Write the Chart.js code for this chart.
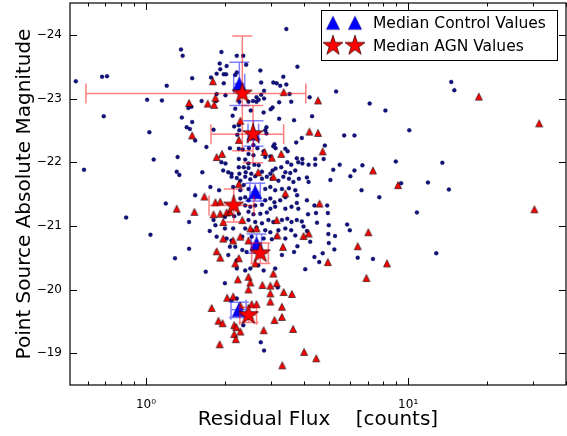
<!DOCTYPE html>
<html>
<head>
<meta charset="utf-8">
<script src="https://cdn.jsdelivr.net/npm/chart.js@4.4.0/dist/chart.umd.min.js"></script>
<style>
    html, body { margin: 0; padding: 0; background: #fff; }
</style>
</head>
<body>
<canvas id="magChart" width="567" height="436"></canvas>
<script>
// control galaxies: [residual flux, point source magnitude]
const controlValues = [
    [0.54,-23.27],[0.68,-23.34],[0.71,-23.35],[0.69,-22.72],[0.58,-21.88],[0.84,-21.13],
    [1.01,-22.98],[1.15,-22.97],[1.03,-22.47],[1.07,-22.04],[1.04,-20.86],[1.2,-23.2],[1.19,-21.35],[1.29,-20.49],
    [1.36,-23.77],[1.38,-23.67],[1.32,-22.08],[1.31,-21.85],[1.34,-21.8],[1.37,-22.70],[1.43,-22.55],[1.47,-22.52],
    [1.54,-22.34],[1.46,-21.06],[1.46,-20.64],[1.50,-23.32],[1.45,-22.85],[1.49,-22.87],[1.50,-22.63],[1.54,-21.48],
    [1.63,-22.96],[1.64,-21.84],[1.69,-20.28],[1.70,-22.24],[1.75,-20.92],[1.76,-21.61],[1.77,-23.33],[1.81,-22.51],
    [1.81,-21.09],[1.84,-21.01],[1.85,-22.96],[1.86,-23.07],[1.86,-20.83],[1.86,-23.39],[1.90,-21.56],[1.91,-23.55],
    [1.92,-23.46],[1.94,-23.73],[1.94,-22.0],[1.97,-21.87],[1.98,-23.38],[1.98,-23.24],[2.02,-23.38],[2.03,-23.51],
    [2.00,-20.10],[2.00,-21.14],[2.00,-20.96],[2.01,-21.98],[2.01,-23.05],[2.03,-20.80],[2.06,-21.84],[2.06,-20.54],
    [2.09,-22.22],[2.12,-21.82],[2.12,-21.77],[2.14,-22.73],[2.15,-21.61],[2.15,-20.96],[2.12,-20.77],[2.12,-19.83],
    [2.17,-22.56],[2.17,-21.15],[2.19,-23.37],[2.19,-22.84],[2.19,-20.67],[2.09,-20.67],[2.22,-23.41],[2.22,-23.67],
    [2.22,-21.75],[2.22,-20.46],[2.22,-20.33],[2.22,-19.86],[2.23,-22.43],[2.26,-22.58],[2.26,-22.21],[2.26,-22.05],
    [2.26,-21.92],[2.26,-21.19],[2.27,-22.50],[2.27,-22.95],[2.27,-21.82],[2.29,-21.71],[2.29,-21.56],[2.29,-21.43],
    [2.33,-20.62],[2.33,-20.83],[2.34,-22.20],[2.35,-23.67],[2.35,-19.44],[2.36,-21.92],[2.36,-21.64],[2.39,-22.04],
    [2.39,-21.77],[2.39,-21.45],[2.39,-21.32],[2.39,-20.96],[2.39,-20.30],[2.40,-21.84],[2.41,-23.53],[2.42,-20.59],
    [2.46,-22.95],[2.47,-22.22],[2.46,-22.13],[2.46,-21.98],[2.46,-21.91],[2.46,-21.58],[2.46,-21.40],[2.46,-21.22],
    [2.46,-21.09],[2.50,-21.73],[2.50,-21.30],[2.50,-20.33],[2.51,-22.81],[2.52,-21.82],[2.53,-20.93],[2.53,-20.83],
    [2.56,-22.96],[2.57,-22.27],[2.57,-22.11],[2.57,-21.18],[2.59,-21.96],[2.61,-21.78],[2.61,-21.32],[2.61,-21.06],
    [2.64,-22.95],[2.64,-23.02],[2.64,-20.97],[2.66,-22.22],[2.68,-20.38],[2.69,-22.98],[2.69,-21.95],[2.73,-21.19],
    [2.73,-23.44],[2.74,-19.17],[2.75,-23.25],[2.75,-23.06],[2.77,-21.85],[2.77,-21.74],[2.77,-21.33],[2.77,-21.04],
    [2.81,-22.78],[2.81,-22.17],[2.81,-20.80],[2.81,-20.30],[2.82,-23.12],[2.82,-23.00],[2.82,-19.04],[2.85,-22.50],
    [2.85,-22.08],[2.85,-21.58],[2.85,-21.40],[2.85,-20.93],[2.88,-22.45],[2.88,-22.55],[2.89,-21.77],[2.89,-21.21],
    [2.93,-21.09],[2.98,-22.09],[2.98,-21.82],[2.98,-21.61],[2.98,-21.43],[2.98,-21.27],[2.98,-20.90],[2.99,-22.83],
    [3.02,-21.74],[3.02,-20.79],[3.04,-22.86],[3.04,-21.87],[3.06,-22.25],[3.06,-21.06],[3.09,-22.28],[3.09,-21.37],
    [3.11,-21.56],[3.11,-21.30],[3.11,-20.33],[3.12,-22.22],[3.12,-21.90],[3.15,-23.24],[3.15,-20.83],[3.18,-20.03],
    [3.20,-21.71],[3.20,-20.93],[3.22,-22.94],[3.22,-22.68],[3.25,-21.40],[3.25,-23.20],[3.28,-21.92],[3.30,-21.58],
    [3.30,-21.09],[3.30,-20.54],[3.34,-23.34],[3.34,-21.77],[3.40,-21.84],[3.40,-21.45],[3.40,-21.27],[3.40,-20.96],
    [3.40,-20.80],[3.40,-22.21],[3.43,-23.22],[3.43,-24.09],[3.46,-22.0],[3.46,-21.11],[3.47,-22.17],[3.51,-21.74],
    [3.51,-21.59],[3.53,-23.07],[3.55,-21.83],[3.58,-22.95],[3.58,-21.96],[3.59,-21.30],[3.59,-21.06],[3.58,-20.93],
    [3.65,-21.69],[3.67,-22.66],[3.67,-20.59],[3.71,-21.87],[3.71,-21.56],[3.71,-20.85],[3.74,-22.31],[3.76,-21.09],
    [3.76,-22.06],[3.76,-21.36],[3.77,-21.48],[3.78,-23.50],[3.78,-20.68],[3.81,-22.0],[3.81,-21.27],[3.83,-21.74],
    [3.93,-22.38],[3.93,-21.07],[3.95,-22.05],[3.95,-21.98],[3.99,-20.99],[4.05,-20.32],[4.11,-21.76],[4.11,-21.40],
    [4.11,-20.92],[4.15,-21.18],[4.17,-21.96],[4.17,-21.69],[4.21,-23.02],[4.23,-20.75],[4.30,-22.72],[4.39,-21.32],
    [4.39,-20.51],[4.42,-22.05],[4.42,-21.96],[4.45,-21.20],[4.49,-21.05],[4.58,-20.43],[4.72,-20.57],[4.76,-22.05],
    [4.81,-22.26],[4.91,-21.32],[4.94,-21.20],[4.96,-20.87],[4.98,-21.01],[4.98,-20.73],[5.18,-21.88],[5.23,-20.63],
    [5.26,-20.84],[5.31,-23.11],[5.05,-21.72],[5.48,-21.96],[5.70,-22.42],[5.85,-21.02],[5.99,-20.93],[6.02,-21.78],
    [6.24,-21.87],[6.24,-22.42],[6.42,-20.50],[6.64,-21.56],[6.69,-21.95],[7.13,-22.92],[7.34,-20.48],[7.76,-21.45],
    [8.19,-22.81],[8.97,-22.01],[9.4,-21.67],[10.1,-22.50],[10.8,-21.21],[11.9,-21.68],[12.8,-20.57],[13.5,-21.99],
    [14.3,-21.57],[14.6,-23.26],[15.0,-23.13],[3.06,-23.25]
];

// AGN hosts: [residual flux, point source magnitude]
const agnValues = [
    [1.31,-21.27],[1.46,-22.93],[1.50,-22.42],[1.53,-21.22],[1.67,-21.46],[1.72,-22.92],[1.80,-23.27],[1.82,-22.90],
    [1.84,-23.01],[1.81,-21.18],[1.84,-21.37],[1.92,-21.38],[1.86,-22.08],[1.95,-22.13],[1.92,-21.19],[2.03,-21.21],
    [2.09,-21.22],[1.97,-21.06],[1.97,-20.80],[2.15,-20.77],[2.29,-20.83],[2.46,-20.77],[2.26,-22.35],[2.26,-21.66],
    [2.29,-22.65],[2.33,-21.09],[2.50,-20.96],[2.64,-20.96],[2.68,-21.84],[2.83,-22.16],[3.02,-22.07],[3.28,-22.13],
    [3.06,-21.77],[3.15,-21.09],[3.35,-23.10],[3.40,-21.51],[3.17,-20.85],[3.33,-20.67],[1.86,-20.60],[1.92,-20.50],
    [2.19,-20.41],[2.26,-20.49],[2.61,-20.41],[3.06,-20.25],[2.24,-20.16],[2.46,-20.20],[2.50,-20.11],[2.46,-20.0],
    [2.78,-20.07],[2.98,-20.06],[3.15,-20.10],[2.98,-19.94],[3.35,-19.96],[3.60,-19.93],[2.04,-19.87],[2.15,-19.89],
    [1.78,-19.71],[2.29,-19.75],[2.53,-19.77],[2.64,-19.77],[2.98,-19.81],[3.30,-19.73],[1.89,-19.51],[1.96,-19.47],
    [2.17,-19.44],[2.21,-19.41],[2.17,-19.30],[2.29,-19.34],[2.20,-19.22],[2.81,-19.36],[3.09,-19.52],[3.30,-19.57],
    [3.64,-19.38],[1.91,-19.14],[3.31,-18.81],[4.01,-19.02],[4.46,-18.92],[4.20,-22.48],[4.53,-22.46],[4.53,-22.97],
    [4.72,-22.17],[3.99,-20.84],[4.17,-20.88],[4.59,-21.35],[4.94,-20.43],[6.42,-20.68],[7.05,-20.90],[7.34,-21.87],
    [8.30,-20.41],[6.93,-20.18],[9.15,-21.64],[18.6,-23.03],[31.6,-22.61],[30.3,-21.26]
];

// medians per magnitude bin
const medControlFlux = [2.27, 2.57, 2.61, 2.64, 2.26];
const medControlMag = [-23.23, -22.45, -21.53, -20.72, -19.68];
const medControlFluxErr = [0.11, 0.12, 0.12, 0.12, 0.15];
const medControlMagErr = [0.34, 0.2, 0.14, 0.15, 0.12];

const medAgnFlux = [2.33, 2.56, 2.16, 2.73, 2.46];
const medAgnMag = [-23.08, -22.44, -21.32, -20.57, -19.60];
const medAgnFluxErr = [1.74, 0.79, 0.42, 0.2, 0.18];
const medAgnMagErr = [0.9, 0.45, 0.26, 0.16, 0.12];

const xMajorTicks = [1, 10];
const xMinorTicks = [0.6, 0.7, 0.8, 0.9, 2, 3, 4, 5, 6, 7, 8, 9, 20, 30, 40];
const xTickLabels = { 1: "10\u2070", 10: "10\u00B9" };
const yTicks = [-24, -23, -22, -21, -20, -19];

const FONT = "DejaVu Sans";

// marker images (matplotlib style triangles and filled stars)
function makeMarker(size, draw)
{
    const c = document.createElement("canvas");
    c.width = size;
    c.height = size;
    draw(c.getContext("2d"), size / 2);
    return c;
}

function triangle(size, w, fill, stroke, lw)
{
    return makeMarker(size, (g, c) =>
    {
        g.beginPath();
        g.moveTo(c, c - w / 2);
        g.lineTo(c - w / 2, c + w / 2);
        g.lineTo(c + w / 2, c + w / 2);
        g.closePath();
        g.fillStyle = fill;
        g.fill();
        g.lineWidth = lw;
        g.strokeStyle = stroke;
        g.stroke();
    });
}

function star(size, R, fill, stroke)
{
    return makeMarker(size, (g, c) =>
    {
        const r = R * 0.382;
        g.beginPath();
        for (let k = 0; k < 10; k++)
        {
            const a = -Math.PI / 2 + k * Math.PI / 5;
            const rr = k % 2 ? r : R;
            g.lineTo(c + rr * Math.cos(a), c + rr * Math.sin(a));
        }
        g.closePath();
        g.fillStyle = fill;
        g.fill();
        g.lineWidth = 0.8;
        g.strokeStyle = stroke;
        g.stroke();
    });
}

const smallTri = triangle(10, 7, "#ff0000", "#000000", 0.6);
const bigTri = triangle(18, 13.5, "#0000ff", "rgba(0,0,90,0.6)", 0.6);
const bigStar = star(26, 10.5, "#ff0000", "#400000");

// drop the label overflow padding so the plot frame sits where the reference has it
function noScalePadding(s)
{
    s.paddingTop = 0;
    s.paddingBottom = 0;
    s.paddingLeft = 0;
    s.paddingRight = 0;
}

const plotDecor = {
    id: "plotDecor",
    beforeDatasetDraw(chart, args)
    {
        const ds = chart.data.datasets[args.index];
        if (!ds.errX) return;

        const { ctx, scales: { x, y } } = chart;
        const cap = 10;
        ctx.save();
        ctx.strokeStyle = ds.errColor;
        ctx.lineWidth = 1.5;
        ds.data.forEach((p, i) =>
        {
            const px = x.getPixelForValue(p.x);
            const py = y.getPixelForValue(p.y);
            const x0 = x.getPixelForValue(p.x - ds.errX[i]);
            const x1 = x.getPixelForValue(p.x + ds.errX[i]);
            const y0 = y.getPixelForValue(p.y - ds.errY[i]);
            const y1 = y.getPixelForValue(p.y + ds.errY[i]);
            ctx.beginPath();
            ctx.moveTo(x0, py); ctx.lineTo(x1, py);
            ctx.moveTo(px, y0); ctx.lineTo(px, y1);
            ctx.moveTo(x0, py - cap); ctx.lineTo(x0, py + cap);
            ctx.moveTo(x1, py - cap); ctx.lineTo(x1, py + cap);
            ctx.moveTo(px - cap, y0); ctx.lineTo(px + cap, y0);
            ctx.moveTo(px - cap, y1); ctx.lineTo(px + cap, y1);
            ctx.stroke();
        });
        ctx.restore();
    },
    afterDraw(chart)
    {
        const { ctx, chartArea: a, scales: { x, y } } = chart;
        ctx.save();

        // frame
        ctx.strokeStyle = "#000";
        ctx.lineWidth = 1.2;
        ctx.strokeRect(a.left, a.top, a.right - a.left, a.bottom - a.top);

        // inward ticks on all four sides
        ctx.lineWidth = 1;
        ctx.beginPath();
        const xTick = (v, len) =>
        {
            const px = Math.round(x.getPixelForValue(v)) + 0.5;
            ctx.moveTo(px, a.bottom); ctx.lineTo(px, a.bottom - len);
            ctx.moveTo(px, a.top); ctx.lineTo(px, a.top + len);
        };
        xMajorTicks.forEach(v => xTick(v, 7));
        xMinorTicks.forEach(v => xTick(v, 3.5));
        yTicks.forEach(v =>
        {
            const py = Math.round(y.getPixelForValue(v)) + 0.5;
            ctx.moveTo(a.left, py); ctx.lineTo(a.left + 7, py);
            ctx.moveTo(a.right, py); ctx.lineTo(a.right - 7, py);
        });
        ctx.stroke();

        // legend with two markers per entry
        const bx = 321.5, by = 10.5, bw = 236, bh = 50;
        ctx.fillStyle = "#fff";
        ctx.fillRect(bx, by, bw, bh);
        ctx.strokeStyle = "#000";
        ctx.lineWidth = 1;
        ctx.strokeRect(bx, by, bw, bh);

        const rows = [
            { img: bigTri, text: "Median Control Values", cy: 22.7, base: 28.3 },
            { img: bigStar, text: "Median AGN Values", cy: 45.7, base: 51 }
        ];
        ctx.fillStyle = "#000";
        ctx.font = `15.5px "${FONT}"`;
        ctx.textBaseline = "alphabetic";
        ctx.textAlign = "left";
        rows.forEach(r =>
        {
            [333, 355].forEach(mx => ctx.drawImage(r.img, mx - r.img.width / 2, r.cy - r.img.height / 2));
            ctx.fillText(r.text, 373, r.base);
        });

        ctx.restore();
    }
};

const toPoints = arr => arr.map(([fx, m]) => ({ x: fx, y: m }));
const zipPoints = (xs, ys) => xs.map((v, i) => ({ x: v, y: ys[i] }));

const ctx = document.getElementById("magChart").getContext("2d");

const chart = new Chart(ctx, {
    type: "scatter",
    data: {
        datasets: [
            {
                label: "Control",
                data: toPoints(controlValues),
                pointStyle: "circle",
                pointRadius: 2,
                backgroundColor: "#12127e",
                borderColor: "#000045",
                borderWidth: 0.3,
                order: 4
            },
            {
                label: "AGN",
                data: toPoints(agnValues),
                pointStyle: smallTri,
                pointRadius: 4,
                order: 3
            },
            {
                label: "Median Control Values",
                data: zipPoints(medControlFlux, medControlMag),
                pointStyle: bigTri,
                pointRadius: 8,
                errX: medControlFluxErr,
                errY: medControlMagErr,
                errColor: "rgba(0,0,255,0.5)",
                order: 2
            },
            {
                label: "Median AGN Values",
                data: zipPoints(medAgnFlux, medAgnMag),
                pointStyle: bigStar,
                pointRadius: 10,
                errX: medAgnFluxErr,
                errY: medAgnMagErr,
                errColor: "rgba(255,0,0,0.5)",
                order: 1
            }
        ]
    },
    options: {
        responsive: false,
        animation: false,
        devicePixelRatio: 1,
        layout: { autoPadding: false, padding: { top: 3, right: 1, left: 0, bottom: 0 } },
        plugins: {
            legend: { display: false },
            tooltip: { enabled: false }
        },
        scales: {
            x: {
                type: "logarithmic",
                min: 0.513,
                max: 40,
                grid: { display: false },
                border: { display: false },
                afterBuildTicks: s => { s.ticks = xMinorTicks.concat(xMajorTicks).sort((a, b) => a - b).map(v => ({ value: v })); },
                afterFit: s => { s.height = 51; noScalePadding(s); },
                ticks: {
                    autoSkip: false,
                    maxRotation: 0,
                    padding: 5,
                    color: "#000",
                    font: { family: FONT, size: 12 },
                    callback: v => xTickLabels[v] || ""
                },
                title: {
                    display: true,
                    text: "Residual Flux    [counts]",
                    color: "#000",
                    font: { family: FONT, size: 20 },
                    padding: { top: 0, bottom: 4 }
                }
            },
            y: {
                min: -24.5,
                max: -18.5,
                reverse: true,
                grid: { display: false, drawTicks: false },
                border: { display: false },
                afterBuildTicks: s => { s.ticks = yTicks.map(v => ({ value: v })); },
                afterFit: s => { s.width = 70; noScalePadding(s); },
                ticks: {
                    padding: 8,
                    color: "#000",
                    font: { family: FONT, size: 12 },
                    callback: v => "\u2212" + Math.abs(v)
                },
                title: {
                    display: true,
                    text: "Point Source Absolute Magnitude",
                    color: "#000",
                    font: { family: FONT, size: 20 },
                    padding: { top: 13, bottom: 0 }
                }
            }
        }
    },
    plugins: [plotDecor]
});
</script>
</body>
</html>
